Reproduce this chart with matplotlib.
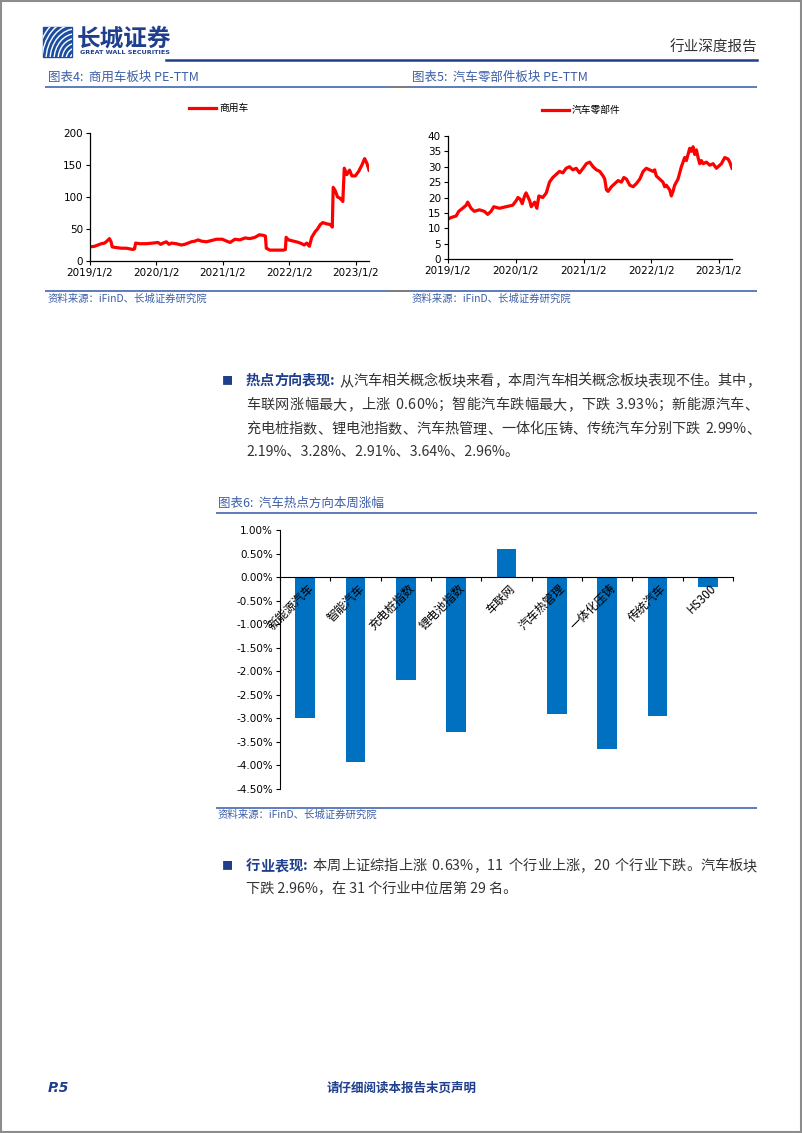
import matplotlib
matplotlib.use("Agg")
import matplotlib.pyplot as plt
from matplotlib.patches import Rectangle, Arc
from matplotlib.ticker import FuncFormatter
import numpy as np
import pandas as pd

plt.rcParams['font.family'] = ['Noto Sans CJK SC', 'DejaVu Sans']
plt.rcParams['axes.unicode_minus'] = False

W, H = 802, 1133
NAVY = '#1F3E8C'
TITLE_BLUE = '#3D5EA8'
RULE_BLUE = '#4F72B5'
TEXT = '#333333'

# ---- data ----
cv_dates = ["2019-01-02", "2019-01-27", "2019-02-15", "2019-03-05", "2019-03-23", "2019-04-05", "2019-04-19",
            "2019-04-28", "2019-05-04", "2019-05-26", "2019-06-23", "2019-07-20", "2019-08-08", "2019-08-26",
            "2019-09-04", "2019-09-10", "2019-10-02", "2019-11-07", "2019-12-14", "2020-01-11", "2020-01-26",
            "2020-02-08", "2020-02-26", "2020-03-12", "2020-03-25", "2020-04-21", "2020-05-19", "2020-06-06",
            "2020-06-25", "2020-07-13", "2020-08-01", "2020-08-19", "2020-09-06", "2020-10-04", "2020-10-31",
            "2020-11-28", "2020-12-30", "2021-01-23", "2021-02-11", "2021-03-09", "2021-04-06", "2021-05-04",
            "2021-05-31", "2021-06-28", "2021-07-22", "2021-08-13", "2021-08-24", "2021-08-29", "2021-09-18",
            "2021-10-25", "2021-12-01", "2021-12-12", "2021-12-16", "2021-12-29", "2022-01-26", "2022-02-23",
            "2022-03-12", "2022-03-25", "2022-04-09", "2022-04-23", "2022-05-06", "2022-05-25", "2022-06-07",
            "2022-06-22", "2022-07-06", "2022-07-28", "2022-08-16", "2022-08-27", "2022-09-01", "2022-09-12",
            "2022-09-25", "2022-10-09", "2022-10-24", "2022-11-01", "2022-11-15", "2022-11-30", "2022-12-13",
            "2023-01-01", "2023-01-19", "2023-02-06", "2023-02-21", "2023-03-05", "2023-03-17"]
cv_pe = [22, 23, 25, 27, 28, 31, 35, 30, 22, 21, 20, 20, 19, 18, 19, 28, 27, 27, 28, 29,
         26, 28, 30, 26, 28, 27, 25, 26, 28, 30, 31, 33, 31, 30, 32, 34, 34, 31, 29, 34,
         33, 36, 35, 37, 41, 40, 39, 20, 17, 17, 17, 18, 37, 33, 31, 29, 27, 25, 28, 23,
         37, 46, 50, 57, 60, 58, 57, 53, 115, 110, 100, 98, 93, 145, 135, 142, 133, 133, 140, 150,
         160, 153, 142]

parts_dates = ["2019-01-02", "2019-01-20", "2019-02-15", "2019-03-01", "2019-03-22", "2019-04-10", "2019-04-18",
               "2019-05-06", "2019-05-24", "2019-06-20", "2019-07-17", "2019-08-04", "2019-08-22", "2019-09-06",
               "2019-10-06", "2019-11-11", "2019-12-17", "2020-01-05", "2020-01-14", "2020-01-26", "2020-02-06",
               "2020-02-19", "2020-02-27", "2020-03-17", "2020-03-26", "2020-04-13", "2020-04-25", "2020-05-06",
               "2020-05-27", "2020-06-15", "2020-07-02", "2020-07-20", "2020-08-07", "2020-08-25", "2020-09-12",
               "2020-09-30", "2020-10-18", "2020-11-05", "2020-11-23", "2020-12-11", "2020-12-30", "2021-01-17",
               "2021-02-04", "2021-02-22", "2021-03-12", "2021-03-30", "2021-04-17", "2021-04-26", "2021-05-05",
               "2021-05-14", "2021-06-01", "2021-06-19", "2021-07-07", "2021-07-25", "2021-08-07", "2021-08-21",
               "2021-09-08", "2021-09-26", "2021-10-13", "2021-11-01", "2021-11-19", "2021-12-06", "2021-12-24",
               "2022-01-11", "2022-01-20", "2022-01-29", "2022-02-16", "2022-03-06", "2022-03-15", "2022-03-24",
               "2022-04-11", "2022-04-20", "2022-04-29", "2022-05-08", "2022-05-26", "2022-06-13", "2022-06-22",
               "2022-07-01", "2022-07-10", "2022-07-19", "2022-07-28", "2022-08-06", "2022-08-15", "2022-08-24",
               "2022-09-02", "2022-09-11", "2022-09-20", "2022-09-29", "2022-10-08", "2022-10-26", "2022-11-13",
               "2022-12-01", "2022-12-19", "2022-12-28", "2023-01-15", "2023-02-02", "2023-02-20", "2023-03-01",
               "2023-03-13"]
parts_pe = [13.0, 13.5, 14.0, 15.5, 16.5, 17.5, 18.5, 16.5, 15.5, 16.0,
            15.5, 14.5, 15.5, 17.0, 16.5, 17.0, 17.5, 19.0, 20.0, 19.5,
            18.0, 20.5, 21.5, 19.0, 17.0, 18.5, 16.5, 20.5, 20.0, 21.5,
            25.0, 26.5, 27.5, 28.5, 28.0, 29.5, 30.0, 29.0, 29.5, 28.0,
            29.5, 31.0, 31.5, 30.0, 29.0, 28.5, 27.0, 26.0, 22.5, 22.0,
            23.5, 24.5, 25.5, 25.0, 26.5, 26.0, 24.0, 23.5, 24.5, 26.0,
            28.5, 29.5, 29.0, 28.5, 29.0, 27.0, 26.0, 25.0, 23.5, 24.0,
            22.5, 20.5, 22.0, 24.0, 26.0, 30.0, 31.5, 33.0, 32.0, 34.0,
            36.0, 35.0, 36.5, 34.0, 35.5, 33.0, 31.0, 32.0, 31.0, 31.5,
            30.5, 31.0, 29.5, 30.0, 31.0, 33.0, 32.5, 31.5, 29.5]

date_ticks = ["2019-01-02", "2020-01-02", "2021-01-02", "2022-01-02", "2023-01-02"]
date_tick_labels = ["2019/1/2", "2020/1/2", "2021/1/2", "2022/1/2", "2023/1/2"]

hot_names = ["新能源汽车", "智能汽车", "充电桩指数", "锂电池指数", "车联网",
             "汽车热管理", "一体化压铸", "传统汽车", "HS300"]
hot_chg = [-2.99, -3.93, -2.19, -3.28, 0.60, -2.91, -3.64, -2.96, -0.21]

lead1 = "热点方向表现: "
body1 = ["从汽车相关概念板块来看，本周汽车相关概念板块表现不佳。其中，",
         "车联网涨幅最大，上涨 0.60%；智能汽车跌幅最大，下跌 3.93%；新能源汽车、",
         "充电桩指数、锂电池指数、汽车热管理、一体化压铸、传统汽车分别下跌 2.99%、",
         "2.19%、3.28%、2.91%、3.64%、2.96%。"]
lead2 = "行业表现: "
body2 = ["本周上证综指上涨 0.63%，11 个行业上涨，20 个行业下跌。汽车板块",
         "下跌 2.96%，在 31 个行业中位居第 29 名。"]


def rect(l, t, r, b):
    return [l / W, 1 - b / H, (r - l) / W, (b - t) / H]


fig = plt.figure(figsize=(W / 100, H / 100), dpi=100)
renderer = fig.canvas.get_renderer()

# page layer in pixel coordinates
pg = fig.add_axes([0, 0, 1, 1])
pg.set_xlim(0, W)
pg.set_ylim(H, 0)
pg.axis('off')
pg.add_patch(Rectangle((0.5, 0.5), W - 1.5, H - 1.5, fill=False, ec='#8c8c8c', lw=1.5))

BODY = dict(fontsize=10.2, color=TEXT)
LEAD = dict(fontsize=10.2, color=NAVY, fontweight='bold')


def justify(x0, x1, y, segments):
    # place text char by char and spread the spare room evenly
    items = []
    widths = []
    for s, kw in segments:
        for c in s:
            if c == ' ':
                items.append(None)
                widths.append(kw['fontsize'] * 100 / 72 * 0.35)
                continue
            t = pg.text(0, y, c, va='center', **kw)
            items.append(t)
            widths.append(t.get_window_extent(renderer).width)
    gap = ((x1 - x0) - sum(widths)) / max(len(items) - 1, 1)
    x = x0
    for t, w in zip(items, widths):
        if t is not None:
            t.set_x(x)
        x += w + gap


# header
logo = Rectangle((43, 27), 29, 30, color='#1B4EA0')
pg.add_patch(logo)
for r in range(6, 40, 4):
    a = Arc((76, 60), 2 * r, 2.4 * r, theta1=180, theta2=270, color='white', lw=1.0)
    pg.add_patch(a)
    a.set_clip_path(logo)
pg.text(77, 39, "长城证券", fontsize=17, fontweight='bold', color=NAVY, va='center')
pg.text(80, 53, "GREAT WALL SECURITIES", fontsize=4.6, fontweight='bold', color=NAVY,
        va='center', family='DejaVu Sans')
pg.plot([166, 757], [60, 60], color=NAVY, lw=1.8)
pg.text(757, 48, "行业深度报告", fontsize=10.5, color=TEXT, ha='right', va='center')


def rule(y, x0, x1, gap=None):
    pg.plot([x0, x1], [y, y], color=RULE_BLUE, lw=1.3, solid_capstyle='butt')
    if gap:
        pg.plot(gap, [y, y], color='#7f7f7f', lw=1.3, solid_capstyle='butt')


# chart 4 / 5 titles and sources
pg.text(48, 77, "图表4:  商用车板块 PE-TTM", fontsize=9, color=TITLE_BLUE, va='center', style='italic')
pg.text(412, 77, "图表5:  汽车零部件板块 PE-TTM", fontsize=9, color=TITLE_BLUE, va='center', style='italic')
rule(87, 45, 757, gap=[390, 410])
rule(291, 45, 757, gap=[390, 410])
pg.text(48, 299, "资料来源：iFinD、长城证券研究院", fontsize=7.5, color=TITLE_BLUE, va='center', style='italic')
pg.text(412, 299, "资料来源：iFinD、长城证券研究院", fontsize=7.5, color=TITLE_BLUE, va='center', style='italic')


def pe_chart(box, dates, vals, label, ymax, ystep, leg_xy):
    ax = fig.add_axes(box)
    d = pd.to_datetime(dates)
    ax.plot(d, vals, color='#FF0000', lw=2.3, solid_joinstyle='round', label=label)
    ax.set_xlim(d[0], d[-1])
    ax.set_ylim(0, ymax)
    ax.set_yticks(np.arange(0, ymax + 1, ystep))
    ax.set_xticks(pd.to_datetime(date_ticks))
    ax.set_xticklabels(date_tick_labels)
    for s in ['top', 'right']:
        ax.spines[s].set_visible(False)
    for s in ['left', 'bottom']:
        ax.spines[s].set_linewidth(0.9)
    ax.tick_params(labelsize=7.5, length=3, width=0.8, pad=2)
    for lbl in ax.get_xticklabels() + ax.get_yticklabels():
        lbl.set_fontfamily('DejaVu Sans')
    ax.legend(loc='center left', bbox_to_anchor=leg_xy, frameon=False, fontsize=7,
              handlelength=2.8, handletextpad=0.3, borderpad=0, borderaxespad=0)
    return ax


pe_chart(rect(90, 133, 369, 261), cv_dates, cv_pe, "商用车", 200, 50, (0.355, 1.195))
pe_chart(rect(448, 136, 732, 259), parts_dates, parts_pe, "汽车零部件", 40, 5, (0.33, 1.21))

# text block 1
ys1 = [381, 405, 429, 452]
pg.text(222, ys1[0], "■", fontsize=8, color=NAVY, va='center')
justify(246, 760, ys1[0], [(lead1, LEAD), (body1[0], BODY)])
justify(246, 758, ys1[1], [(body1[1], BODY)])
justify(246, 760, ys1[2], [(body1[2], BODY)])
pg.text(246, ys1[3], body1[3], va='center', **BODY)

# chart 6
pg.text(218, 503, "图表6:  汽车热点方向本周涨幅", fontsize=9, color=TITLE_BLUE, va='center', style='italic')
rule(513, 216, 757)
rule(808, 216, 757)
pg.text(218, 815, "资料来源：iFinD、长城证券研究院", fontsize=7.5, color=TITLE_BLUE, va='center', style='italic')

ax6 = fig.add_axes(rect(280, 530, 733, 789))
x = np.arange(len(hot_names))
ax6.bar(x, hot_chg, width=0.39, color='#0070C0', zorder=2)
ax6.set_xlim(-0.5, len(hot_names) - 0.5)
ax6.set_ylim(-4.5, 1.0)
ax6.set_yticks(np.arange(-4.5, 1.01, 0.5))
ax6.yaxis.set_major_formatter(FuncFormatter(lambda v, _: f"{v:.2f}%"))
ax6.set_xticks(np.arange(-0.5, len(hot_names), 1))
ax6.set_xticklabels([])
ax6.spines['bottom'].set_position(('data', 0))
for s in ['top', 'right']:
    ax6.spines[s].set_visible(False)
ax6.tick_params(axis='y', labelsize=7.5, length=3, width=0.8, pad=2)
ax6.tick_params(axis='x', length=3, width=0.8, direction='out')
for lbl in ax6.get_yticklabels():
    lbl.set_fontfamily('DejaVu Sans')
for i, name in enumerate(hot_names):
    ax6.text(i + 0.13, -0.2, name, rotation=45, rotation_mode='anchor', ha='right', va='center',
             fontsize=8.5, zorder=5)

# text block 2
ys2 = [866, 889]
pg.text(222, ys2[0], "■", fontsize=8, color=NAVY, va='center')
justify(246, 757, ys2[0], [(lead2, LEAD), (body2[0], BODY)])
pg.text(246, ys2[1], body2[1], va='center', **BODY)

# footer
pg.text(48, 1088, "P.5", fontsize=10, fontweight='bold', style='italic', color=NAVY, va='center',
        family='DejaVu Sans')
pg.text(402, 1088, "请仔细阅读本报告末页声明", fontsize=9, fontweight='bold', color=NAVY,
        ha='center', va='center')

fig.savefig("out.png", dpi=100)
